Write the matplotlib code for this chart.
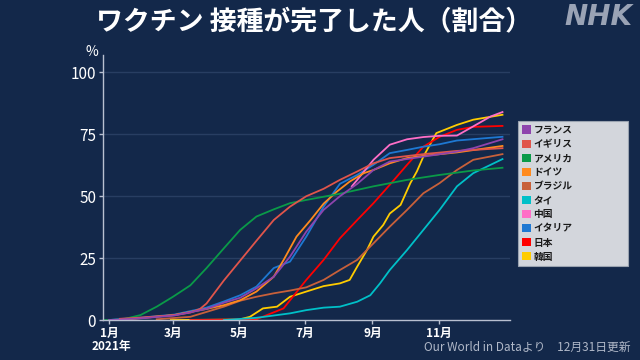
import matplotlib
matplotlib.use("Agg")
import matplotlib.pyplot as plt
from matplotlib.patches import Patch

plt.rcParams['font.family'] = ['Noto Sans CJK JP', 'DejaVu Sans']

# --- data: day of year 2021 (0 = 1月1日) and % fully vaccinated ---
france_day = [0, 10, 30, 60, 90, 106, 121, 136, 152, 167, 182, 198, 213, 229, 244, 259, 290, 321, 336, 363]
france_val = [0, 0.2, 0.7, 1.8, 4.5, 7.0, 9.0, 12.8, 17.5, 25.6, 35.7, 44.5, 50.0, 55.0, 60.6, 64.0, 66.0, 68.0, 69.4, 73.0]

uk_day = [10, 30, 60, 75, 84, 90, 106, 121, 136, 152, 167, 182, 198, 213, 229, 244, 259, 290, 321, 363]
uk_val = [0.5, 1.0, 2.0, 3.0, 4.5, 6.7, 16.0, 24.0, 32.0, 40.4, 45.8, 50.0, 53.0, 56.6, 60.0, 63.3, 65.4, 67.0, 68.3, 69.4]

usa_day = [-5, 0, 13, 29, 44, 59, 75, 90, 106, 121, 136, 152, 167, 182, 213, 244, 275, 305, 336, 363]
usa_val = [0, 0, 0.3, 2.0, 5.4, 9.4, 14.0, 21.0, 29.0, 36.4, 41.8, 44.7, 47.2, 48.5, 51.0, 54.0, 56.6, 58.6, 60.4, 61.5]

germany_day = [15, 30, 60, 90, 106, 121, 136, 152, 161, 173, 186, 198, 210, 222, 235, 244, 259, 275, 290, 321, 363]
germany_val = [0.3, 0.8, 2.0, 4.5, 6.0, 8.0, 11.5, 17.5, 24.2, 33.7, 40.4, 47.0, 51.8, 55.9, 59.3, 60.6, 63.3, 65.4, 66.3, 67.7, 70.3]

brazil_day = [44, 75, 106, 121, 136, 152, 167, 182, 198, 213, 229, 244, 259, 275, 290, 305, 321, 336, 363]
brazil_val = [0.3, 1.3, 5.4, 7.8, 9.4, 10.8, 11.9, 13.2, 16.2, 20.2, 24.3, 31.0, 37.7, 44.5, 51.2, 55.3, 60.6, 64.7, 67.0]

thai_day = [106, 136, 167, 182, 198, 213, 229, 241, 250, 259, 275, 290, 305, 321, 336, 363]
thai_val = [0, 0.9, 2.7, 4.0, 5.0, 5.4, 7.4, 10.0, 14.8, 20.2, 28.3, 36.4, 44.5, 54.0, 59.3, 65.0]

china_day = [224, 229, 244, 259, 275, 290, 305, 321, 336, 352, 363]
china_val = [54.0, 56.6, 64.7, 70.8, 73.0, 73.9, 74.4, 74.5, 78.2, 82.2, 84.0]

italy_day = [0, 10, 30, 60, 90, 106, 121, 136, 152, 167, 182, 198, 213, 229, 244, 259, 275, 290, 305, 321, 363]
italy_val = [0, 0.4, 1.0, 2.2, 5.0, 7.5, 10.0, 13.5, 21.0, 23.6, 33.7, 45.8, 55.0, 58.6, 62.7, 67.4, 68.7, 70.0, 71.0, 72.5, 74.0]

japan_day = [75, 136, 161, 182, 198, 213, 229, 244, 259, 275, 290, 305, 321, 336, 363]
japan_val = [0, 0.3, 4.7, 16.2, 24.3, 33.0, 40.4, 47.2, 54.6, 62.7, 70.0, 74.0, 76.8, 78.0, 78.4]

korea_day = [57, 120, 130, 142, 155, 167, 182, 198, 213, 222, 229, 238, 244, 253, 259, 269, 278, 284, 290, 302, 321, 336, 363]
korea_val = [0, 0.2, 1.3, 4.7, 5.4, 9.4, 11.5, 13.7, 14.8, 16.2, 21.6, 28.3, 33.7, 38.4, 43.0, 46.5, 55.3, 60.0, 66.0, 75.5, 78.8, 80.9, 82.9]

countries = ['フランス', 'イギリス', 'アメリカ', 'ドイツ', 'ブラジル', 'タイ', '中国', 'イタリア', '日本', '韓国']
colors = ['#8e44ad', '#e0554b', '#0a9a48', '#ff8a1e', '#c8603a', '#00c0c8', '#ff6ec7', '#1e78d2', '#ff0000', '#ffcc00']
series = [(france_day, france_val), (uk_day, uk_val), (usa_day, usa_val), (germany_day, germany_val),
          (brazil_day, brazil_val), (thai_day, thai_val), (china_day, china_val), (italy_day, italy_val),
          (japan_day, japan_val), (korea_day, korea_val)]

month_ticks = [0, 59, 120, 181, 243, 304]
month_labels = ['1月', '3月', '5月', '7月', '9月', '11月']
y_ticks = [0, 25, 50, 75, 100]

bg = '#13284a'
fig = plt.figure(figsize=(6.4, 3.6), dpi=100, facecolor=bg)
ax = fig.add_axes([0.161, 0.111, 0.636, 0.736], facecolor=bg)

for y in y_ticks[1:]:
    ax.axhline(y, color='#283e62', lw=1, zorder=0)

# draw in reverse so earlier legend entries sit on top like the original
for (d, v), c in zip(series[::-1], colors[::-1]):
    ax.plot(d, v, color=c, lw=1.3)

ax.set_xlim(-5.5, 370)
ax.set_ylim(0, 107)
ax.set_xticks(month_ticks)
ax.set_xticklabels(month_labels, fontsize=8.5, color='white', fontweight='bold')
ax.set_yticks(y_ticks)
ax.set_yticklabels([str(t) for t in y_ticks], fontsize=11, color='white')
ax.tick_params(axis='both', colors='#b8c0d0', length=3, width=1, pad=2)
for t in ax.get_xticklabels() + ax.get_yticklabels():
    t.set_color('white')
for s in ['top', 'right']:
    ax.spines[s].set_visible(False)
for s in ['left', 'bottom']:
    ax.spines[s].set_color('#b8c0d0')
    ax.spines[s].set_linewidth(1)

handles = [Patch(facecolor=c, edgecolor='none', label=n) for n, c in zip(countries, colors)]
leg = fig.legend(handles=handles, loc='upper left', mode='expand',
                 bbox_to_anchor=(518 / 640, 1 - 253 / 360, 110 / 640, 132 / 360),
                 frameon=True, fancybox=False, fontsize=7, handlelength=0.9, handleheight=0.9,
                 handletextpad=0.3, labelspacing=0.42, borderpad=0.4, borderaxespad=0,
                 prop={'weight': 'bold', 'size': 7})
leg.get_frame().set_facecolor('#d3d6dc')
leg.get_frame().set_edgecolor('#9aa3b0')
leg.get_frame().set_alpha(1)
leg.get_frame().set_linewidth(0.8)
for t in leg.get_texts():
    t.set_color('#1a1a1a')

fig.text(0.49, 0.942, 'ワクチン 接種が完了した人（割合）', color='white', fontsize=19.4,
         fontweight='bold', ha='center', va='center')
fig.text(0.988, 0.954, 'NHK', color='#9aa3b5', fontsize=20, fontweight='heavy',
         fontstyle='italic', ha='right', va='center', family='DejaVu Sans')
fig.text(92 / 640, 1 - 52 / 360, '%', color='white', fontsize=10, ha='center', va='center')
fig.text(111 / 640, 1 - 346.5 / 360, '2021年', color='white', fontsize=8.5, fontweight='bold',
         ha='center', va='center')
fig.text(630 / 640, 1 - 347 / 360, 'Our World in Dataより　12月31日更新', color='#b0b8c8',
         fontsize=8.5, ha='right', va='center')

fig.savefig('out.png', dpi=100, facecolor=bg)
